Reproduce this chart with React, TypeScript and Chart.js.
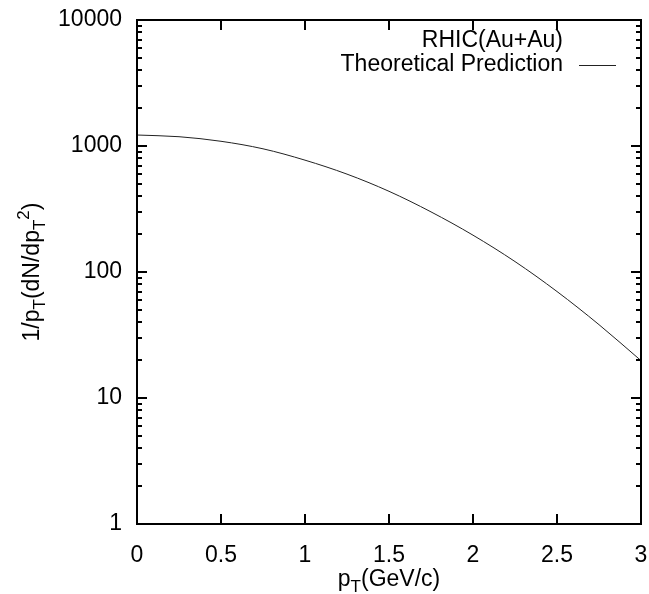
import React, { useEffect, useRef } from "react";
import { Chart, registerables } from "chart.js";

Chart.register(...registerables);

// ---- data ----
const pT = [0, 0.25, 0.5, 0.75, 1, 1.25, 1.5, 1.75, 2, 2.25, 2.5, 2.75, 3];
const yieldVals = [1222, 1185, 1090, 950, 772, 598, 437, 300, 196, 121, 70, 38.2, 19.8];
const xTickValues = [0, 0.5, 1, 1.5, 2, 2.5, 3];
const yTickValues = [1, 10, 100, 1000, 10000];
const legendTitle = "RHIC(Au+Au)";
const seriesLabel = "Theoretical Prediction";

const FONT = '"Liberation Sans", Arial, Helvetica, sans-serif';
const FS = 23;
const LINE_COLOR = "#222";

type Seg = { t: string; k?: "sub" | "sup" };

const xTitle: Seg[] = [{ t: "p" }, { t: "T", k: "sub" }, { t: "(GeV/c)" }];
const yTitle: Seg[] = [
  { t: "1/p" },
  { t: "T", k: "sub" },
  { t: "(dN/dp" },
  { t: "T", k: "sub" },
  { t: "2", k: "sup" },
  { t: ")" },
];

function drawRich(ctx: CanvasRenderingContext2D, segs: Seg[], x: number, y: number) {
  const small = Math.round(FS * 0.72);
  let total = 0;
  const widths: number[] = [];
  for (const s of segs) {
    ctx.font = `${s.k ? small : FS}px ${FONT}`;
    const w = ctx.measureText(s.t).width;
    widths.push(w);
    total += w;
  }
  let cx = x - total / 2;
  ctx.textAlign = "left";
  ctx.textBaseline = "alphabetic";
  segs.forEach((s, i) => {
    ctx.font = `${s.k ? small : FS}px ${FONT}`;
    const dy = s.k === "sub" ? FS * 0.28 : s.k === "sup" ? -FS * 0.45 : 0;
    ctx.fillText(s.t, cx, y + dy);
    cx += widths[i];
  });
}

const framePlugin = {
  id: "gnuframe",
  afterDatasetsDraw(chart: any) {
    const ctx: CanvasRenderingContext2D = chart.ctx;
    const { left, right, top, bottom } = chart.chartArea;
    const xs = chart.scales.x;
    const ys = chart.scales.y;
    ctx.save();
    ctx.strokeStyle = "#000";
    ctx.lineWidth = 2;
    ctx.beginPath();
    for (const v of xTickValues) {
      const px = Math.round(xs.getPixelForValue(v));
      ctx.moveTo(px, bottom);
      ctx.lineTo(px, bottom - 10);
      ctx.moveTo(px, top);
      ctx.lineTo(px, top + 10);
    }
    for (let d = 0; d < yTickValues.length; d++) {
      const base = yTickValues[d];
      const maxM = d === yTickValues.length - 1 ? 1 : 9;
      for (let m = 1; m <= maxM; m++) {
        const py = Math.round(ys.getPixelForValue(base * m));
        const len = m === 1 ? 10 : 5;
        ctx.moveTo(left, py);
        ctx.lineTo(left + len, py);
        ctx.moveTo(right, py);
        ctx.lineTo(right - len, py);
      }
    }
    ctx.stroke();
    ctx.strokeRect(left, top, right - left, bottom - top);

    // titles
    ctx.fillStyle = "#000";
    drawRich(ctx, xTitle, (left + right) / 2, 586);
    ctx.save();
    ctx.translate(39, (top + bottom) / 2);
    ctx.rotate(-Math.PI / 2);
    drawRich(ctx, yTitle, 0, 0);
    ctx.restore();

    // legend
    ctx.font = `${FS}px ${FONT}`;
    ctx.textAlign = "right";
    ctx.textBaseline = "middle";
    ctx.fillText(legendTitle, 563, 41);
    ctx.fillText(seriesLabel, 563, 65);
    ctx.strokeStyle = LINE_COLOR;
    ctx.lineWidth = 1;
    ctx.beginPath();
    ctx.moveTo(579, 65.5);
    ctx.lineTo(616, 65.5);
    ctx.stroke();
    ctx.restore();
  },
};

export default function App() {
  const ref = useRef<HTMLCanvasElement | null>(null);
  useEffect(() => {
    if (!ref.current) return;
    const chart = new Chart(ref.current, {
      type: "line",
      data: {
        datasets: [
          {
            label: seriesLabel,
            data: pT.map((x, i) => ({ x, y: yieldVals[i] })),
            borderColor: LINE_COLOR,
            borderWidth: 1,
            pointRadius: 0,
            fill: false,
            cubicInterpolationMode: "monotone",
          },
        ],
      },
      options: {
        animation: false,
        responsive: false,
        events: [],
        layout: { padding: { top: 20, right: 8, left: 0, bottom: 0 } },
        plugins: { legend: { display: false }, tooltip: { enabled: false }, title: { display: false } },
        scales: {
          x: {
            type: "linear",
            min: 0,
            max: 3,
            grid: { display: false, drawTicks: false },
            border: { display: false },
            afterBuildTicks: (s: any) => {
              s.ticks = xTickValues.map((v) => ({ value: v }));
            },
            afterFit: (s: any) => {
              s.height = 70;
              s.paddingLeft = 0;
              s.paddingRight = 0;
            },
            ticks: {
              color: "#000",
              padding: 18,
              maxRotation: 0,
              autoSkip: false,
              font: { family: FONT, size: FS },
              callback: (v: any) => String(v),
            },
          },
          y: {
            type: "logarithmic",
            min: 1,
            max: 10000,
            grid: { display: false, drawTicks: false },
            border: { display: false },
            afterBuildTicks: (s: any) => {
              s.ticks = yTickValues.map((v) => ({ value: v }));
            },
            afterFit: (s: any) => {
              s.width = 137;
              s.paddingTop = 0;
              s.paddingBottom = 0;
            },
            ticks: {
              color: "#000",
              padding: 15,
              autoSkip: false,
              font: { family: FONT, size: FS },
              callback: (v: any) => String(v),
            },
          },
        },
      } as any,
      plugins: [framePlugin],
    });
    return () => chart.destroy();
  }, []);
  return (
    <div style={{ position: "absolute", left: 0, top: 0, width: 649, height: 594, background: "#fff" }}>
      <canvas ref={ref} width={649} height={594} style={{ display: "block" }} />
    </div>
  );
}
